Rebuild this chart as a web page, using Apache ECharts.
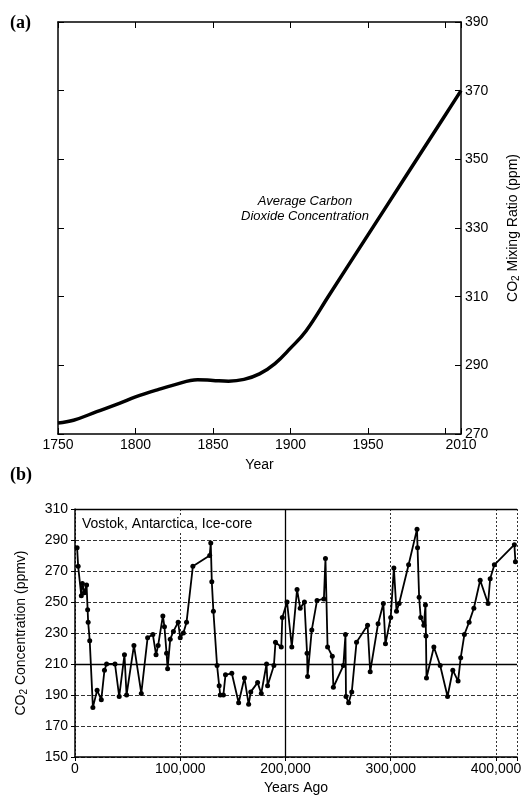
<!DOCTYPE html>
<html>
<head>
<meta charset="utf-8">
<script src="https://cdn.jsdelivr.net/npm/echarts@6/dist/echarts.min.js"></script>
<style>
html,body{margin:0;padding:0;background:#fff;}
#chart{width:529px;height:801px;}
</style>
</head>
<body>
<div id="chart"></div>
<script>
// Panel (a): average CO2 concentration, 1750-2010
var yearsA = [1750, 1760, 1775, 1790, 1800, 1815, 1825, 1840, 1850, 1860, 1870, 1880, 1890, 1900, 1910, 1925, 1950, 1975, 2000, 2010];
var co2A   = [273.2, 274, 276.5, 279, 280.8, 283, 284.3, 285.8, 285.6, 285.4, 285.9, 287.5, 290.5, 295, 300, 310.5, 328, 345.5, 363, 370];
var yTicksA = [270, 290, 310, 330, 350, 370, 390];

// Panel (b): Vostok ice core, years ago (thousands) and ppmv
var agesB = [2, 3, 6, 7, 9, 11, 12, 12.5, 14, 17, 21, 25, 28, 30, 38, 42, 47, 49, 56, 63, 69, 74, 77, 79, 83.5, 85, 87, 88, 90.5, 93.5, 98, 100, 103, 106, 112, 128, 129, 130, 131.5, 135, 137, 138, 141, 143, 149, 155.5, 161, 165, 167, 173.5, 177, 182, 183, 189, 190.5, 196, 197, 201.5, 206, 211, 214, 218, 220.5, 221, 225, 230, 236.5, 238, 240, 244.5, 245.5, 255, 257, 257.5, 260, 263, 267.5, 278, 280.5, 288, 293, 295, 300, 303, 305.5, 308, 317, 325, 325.5, 327, 328.5, 331.5, 333, 333.5, 334, 341, 347, 354, 359, 364, 366.5, 370, 374.5, 379, 385, 392.5, 394.5, 398.5, 417.5, 418.5];
var co2B  = [285, 273, 254, 262, 256, 261, 245, 237, 225, 182, 193, 187, 206, 210, 210, 189, 216, 190, 222, 191, 227, 229, 216, 222, 241, 234, 217, 207, 226, 231, 237, 227, 230, 237, 273, 280, 288, 263, 244, 209, 196, 190, 190, 203, 204, 185, 201, 184, 192, 198, 191, 210, 196, 209, 224, 221, 240, 250, 221, 258, 246, 250, 217, 202, 232, 251, 252, 278, 221, 215, 195, 209, 229, 189, 185, 192, 224, 235, 205, 236, 249, 223, 240, 272, 244, 249, 274, 297, 285, 253, 240, 235, 248, 228, 201, 221, 209, 189, 206, 199, 214, 229, 237, 246, 264, 249, 265, 274, 287, 276];
var yTicksB = [150, 170, 190, 210, 230, 250, 270, 290, 310];

var dataA = yearsA.map(function (y, i) { return [y, co2A[i]]; });
var dataB = agesB.map(function (a, i) { return [a * 1000, co2B[i]]; });

var FONT = 'Liberation Sans, Arial, sans-serif';
var chart = echarts.init(document.getElementById('chart'), null, {renderer: 'canvas'});

function fmtThousands(v) {
  return String(v).replace(/\B(?=(\d{3})+(?!\d))/g, ',');
}

var option = {
  backgroundColor: '#fff',
  animation: false,
  grid: [
    {left: 58, right: 65, top: 22, bottom: 367},
    {left: 75, right: 12, top: 509, bottom: 44}
  ],
  xAxis: [
    {
      type: 'value', gridIndex: 0, position: 'bottom',
      min: 1750, max: 2010, interval: 50,
      axisLine: {show: true, lineStyle: {color: '#000', width: 1.5}},
      axisTick: {show: true, inside: true, length: 6, lineStyle: {color: '#000'}},
      axisLabel: {
        color: '#000', fontFamily: FONT, fontSize: 14, margin: 4, showMaxLabel: true,
        formatter: function (v) { return (v === 2000) ? '' : String(v); }
      },
      splitLine: {show: false},
      name: 'Year', nameLocation: 'middle', nameGap: 24,
      nameTextStyle: {color: '#000', fontFamily: FONT, fontSize: 14}
    },
    {
      type: 'value', gridIndex: 0, position: 'top',
      min: 1750, max: 2010, interval: 50,
      axisLine: {show: true, lineStyle: {color: '#000', width: 1.5}},
      axisTick: {show: true, inside: true, length: 6, lineStyle: {color: '#000'}},
      axisLabel: {show: false},
      splitLine: {show: false}
    },
    {
      type: 'value', gridIndex: 1, position: 'bottom',
      min: 0, max: 420000, interval: 100000,
      axisLine: {show: true, lineStyle: {color: '#000', width: 1.5}},
      axisTick: {show: true, inside: false, length: 4, lineStyle: {color: '#000'}},
      axisLabel: {
        color: '#000', fontFamily: FONT, fontSize: 14, margin: 5, showMaxLabel: true,
        formatter: function (v) { return (v % 100000 === 0) ? fmtThousands(v) : ''; }
      },
      splitLine: {show: true, lineStyle: {color: '#333', width: 1, type: [2, 2]}},
      name: 'Years Ago', nameLocation: 'middle', nameGap: 24,
      nameTextStyle: {color: '#000', fontFamily: FONT, fontSize: 14}
    }
  ],
  yAxis: [
    {
      type: 'value', gridIndex: 0, position: 'right',
      min: 270, max: 390, interval: 20,
      axisLine: {show: true, lineStyle: {color: '#000', width: 1.5}},
      axisTick: {show: true, inside: true, length: 6, lineStyle: {color: '#000'}},
      axisLabel: {color: '#000', fontFamily: FONT, fontSize: 14, margin: 4},
      splitLine: {show: false},
      name: 'CO{sub|2} Mixing Ratio (ppm)', nameLocation: 'middle', nameGap: 44, nameRotate: 90,
      nameTextStyle: {
        color: '#000', fontFamily: FONT, fontSize: 14,
        rich: {sub: {fontSize: 10, verticalAlign: 'bottom', padding: [6, 0, 0, 0], color: '#000', fontFamily: FONT}}
      }
    },
    {
      type: 'value', gridIndex: 0, position: 'left',
      min: 270, max: 390, interval: 20,
      axisLine: {show: true, lineStyle: {color: '#000', width: 1.5}},
      axisTick: {show: true, inside: true, length: 6, lineStyle: {color: '#000'}},
      axisLabel: {show: false},
      splitLine: {show: false}
    },
    {
      type: 'value', gridIndex: 1, position: 'left',
      min: 150, max: 310, interval: 20,
      axisLine: {show: true, lineStyle: {color: '#000', width: 1.5}},
      axisTick: {show: true, inside: false, length: 4, lineStyle: {color: '#000'}},
      axisLabel: {color: '#000', fontFamily: FONT, fontSize: 14, margin: 7},
      splitLine: {show: true, lineStyle: {color: '#333', width: 1, type: [4, 2]}},
      name: 'CO{sub|2} Concentration (ppmv)', nameLocation: 'middle', nameGap: 46, nameRotate: 90,
      nameTextStyle: {
        color: '#000', fontFamily: FONT, fontSize: 14,
        rich: {sub: {fontSize: 10, verticalAlign: 'bottom', padding: [6, 0, 0, 0], color: '#000', fontFamily: FONT}}
      }
    }
  ],
  series: [
    {
      type: 'line', xAxisIndex: 0, yAxisIndex: 0,
      data: dataA, smooth: 0.4, showSymbol: false,
      lineStyle: {color: '#000', width: 3.5}
    },
    {
      type: 'line', xAxisIndex: 2, yAxisIndex: 2,
      data: dataB, smooth: false,
      symbol: 'circle', symbolSize: 5, showAllSymbol: true,
      itemStyle: {color: '#000'},
      lineStyle: {color: '#000', width: 1.8},
      markLine: {
        silent: true, symbol: 'none', label: {show: false},
        lineStyle: {color: '#000', type: 'solid', width: 1.3},
        data: [{xAxis: 200000}, {yAxis: 210}, {yAxis: 310}]
      }
    }
  ],
  graphic: [
    {type: 'text', left: 10, top: 14, style: {text: '(a)', font: 'bold 18px "Liberation Serif", serif', fill: '#000'}},
    {type: 'text', left: 10, top: 466, style: {text: '(b)', font: 'bold 18px "Liberation Serif", serif', fill: '#000'}},
    {type: 'text', x: 305, y: 201, style: {text: 'Average Carbon', font: 'italic 13px "Liberation Sans", Arial, sans-serif', fill: '#000', align: 'center', verticalAlign: 'middle'}},
    {type: 'text', x: 305, y: 216, style: {text: 'Dioxide Concentration', font: 'italic 13px "Liberation Sans", Arial, sans-serif', fill: '#000', align: 'center', verticalAlign: 'middle'}},
    {type: 'text', x: 82, y: 524, z: 10, style: {text: 'Vostok, Antarctica, Ice-core', font: '14px "Liberation Sans", Arial, sans-serif', fill: '#000', align: 'left', verticalAlign: 'middle', backgroundColor: '#fff', padding: [1, 2, 1, 0]}}
  ]
};
chart.setOption(option);
</script>
</body>
</html>
